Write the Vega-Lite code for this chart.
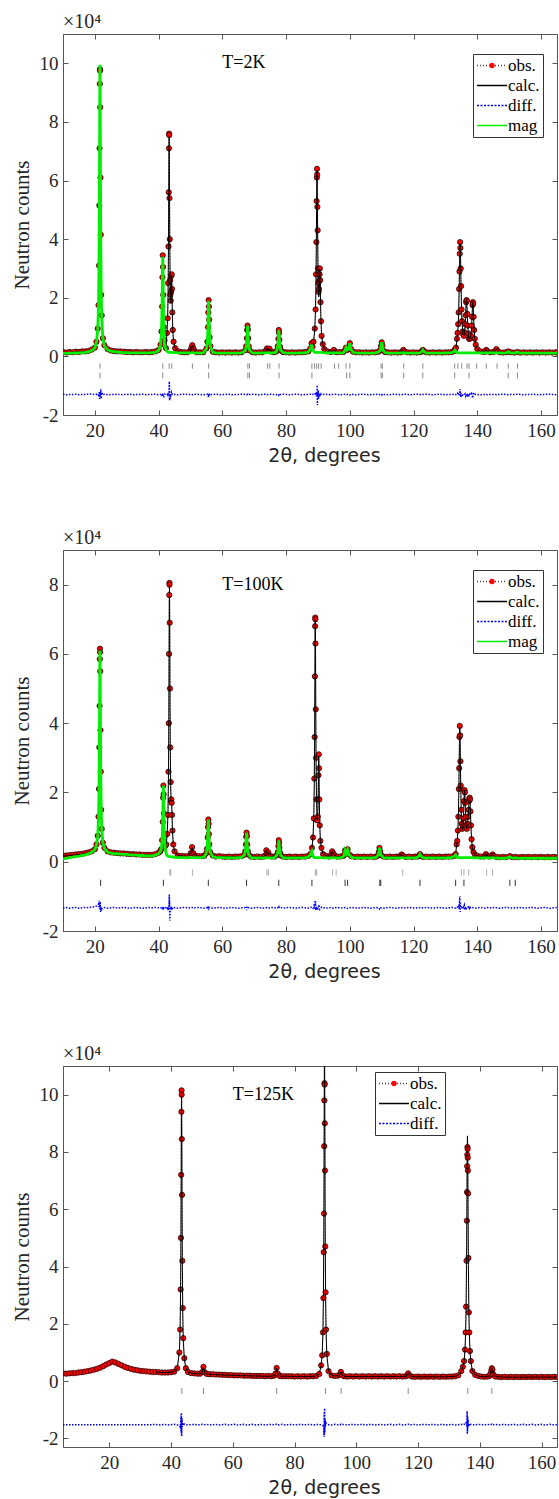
{
"$schema":"https://vega.github.io/schema/vega-lite/v6.json",
"padding":{"left":10,"top":11,"right":0,"bottom":0},
"background":"white",
"bounds":"flush",
"spacing":135,
"resolve":{"scale":{"color":"independent","shape":"independent"}},
"config":{
 "font":"Liberation Serif",
 "view":{"stroke":"#555","strokeWidth":1},
 "axis":{"labelFont":"Liberation Serif","labelFontSize":19,"labelColor":"#262626","domainColor":"#555","tickColor":"#555","tickSize":-5,"grid":false,"titleFontWeight":"normal","titleColor":"#262626"},
 "axisX":{"titleFont":"DejaVu Sans","titleFontSize":19,"labelPadding":11},
 "axisY":{"titleFont":"Liberation Serif","titleFontSize":21,"labelPadding":10,"titleX":-31,"titleBaseline":"bottom"},
 "title":{"font":"Liberation Serif","fontSize":20,"fontWeight":"normal","anchor":"start","frame":"group","offset":2,"color":"#262626"}
},
"datasets":{
"p1":[
{"x":10,"o":0.15,"c":0.13,"d":-1.29,"m":0.1},{"x":11,"o":0.13,"c":0.13,"d":-1.31,"m":0.1},{"x":12,"o":0.15,"c":0.14,"d":-1.3,"m":0.11},{"x":13,"o":0.14,"c":0.14,"d":-1.3,"m":0.11},{"x":14,"o":0.16,"c":0.15,"d":-1.29,"m":0.12},{"x":15,"o":0.15,"c":0.15,"d":-1.31,"m":0.12},{"x":16,"o":0.17,"c":0.16,"d":-1.3,"m":0.13},{"x":17,"o":0.17,"c":0.17,"d":-1.3,"m":0.14},{"x":18,"o":0.19,"c":0.19,"d":-1.29,"m":0.16},{"x":19,"o":0.23,"c":0.22,"d":-1.28,"m":0.2},{"x":20,"o":0.3,"c":0.31,"d":-1.31,"m":0.29},{"x":20.5,"o":0.5,"c":0.49,"d":-1.29,"m":0.48},
{"x":20.9,"o":0.95,"c":0.92,"d":-1.27,"m":0.92},{"x":21.15,"o":1.75,"c":1.79,"d":-1.34,"m":1.79},{"x":21.3,"o":3.1,"c":3.18,"d":-1.38,"m":3.18},{"x":21.4,"o":5.15,"c":5.04,"d":-1.19,"m":5.04},{"x":21.48,"o":7.1,"c":7.32,"d":-1.45,"m":7.32},{"x":21.55,"o":9.3,"c":9.32,"d":-1.32,"m":9.32},{"x":21.6,"o":9.8,"c":9.9,"d":-1.4,"m":9.95},{"x":21.63,"o":9.75,"c":9.68,"d":-1.23,"m":9.72},{"x":21.68,"o":8.5,"c":8.55,"d":-1.35,"m":8.58},{"x":21.76,"o":6.1,"c":6.11,"d":-1.3,"m":6.11},{"x":21.85,"o":4.15,"c":3.97,"d":-1.12,"m":3.97},{"x":21.98,"o":2.1,"c":2.29,"d":-1.45,"m":2.29},{"x":22.15,"o":1.4,"c":1.33,"d":-1.23,"m":1.33},{"x":22.5,"o":0.62,"c":0.64,"d":-1.32,"m":0.63},
{"x":23,"o":0.38,"c":0.37,"d":-1.29,"m":0.35},{"x":24,"o":0.25,"c":0.24,"d":-1.31,"m":0.22},{"x":25,"o":0.2,"c":0.2,"d":-1.3,"m":0.18},{"x":26,"o":0.18,"c":0.18,"d":-1.3,"m":0.16},{"x":27,"o":0.17,"c":0.17,"d":-1.29,"m":0.15},{"x":28,"o":0.17,"c":0.16,"d":-1.31,"m":0.14},{"x":29,"o":0.16,"c":0.15,"d":-1.3,"m":0.13},{"x":30,"o":0.15,"c":0.15,"d":-1.3,"m":0.13},{"x":31,"o":0.15,"c":0.14,"d":-1.29,"m":0.12},{"x":32,"o":0.14,"c":0.14,"d":-1.31,"m":0.12},{"x":33,"o":0.15,"c":0.14,"d":-1.3,"m":0.12},{"x":34,"o":0.14,"c":0.14,"d":-1.3,"m":0.12},{"x":35,"o":0.14,"c":0.14,"d":-1.29,"m":0.12},{"x":36,"o":0.15,"c":0.14,"d":-1.31,"m":0.12},{"x":37,"o":0.14,"c":0.14,"d":-1.3,"m":0.12},{"x":38,"o":0.15,"c":0.15,"d":-1.3,"m":0.13},{"x":39,"o":0.17,"c":0.16,"d":-1.29,"m":0.14},{"x":40,"o":0.22,"c":0.22,"d":-1.31,"m":0.2},
{"x":40.6,"o":0.4,"c":0.39,"d":-1.3,"m":0.38},{"x":40.9,"o":0.85,"c":0.8,"d":-1.27,"m":0.8},{"x":41.1,"o":1.7,"c":1.79,"d":-1.36,"m":1.79},{"x":41.2,"o":2.7,"c":2.78,"d":-1.35,"m":2.78},{"x":41.3,"o":3.45,"c":3.4,"d":-1.28,"m":3.4},{"x":41.38,"o":3.05,"c":2.98,"d":-1.26,"m":2.98},{"x":41.46,"o":2.1,"c":2.15,"d":-1.34,"m":2.15},{"x":41.6,"o":1.0,"c":1.15,"d":-1.4,"m":1.12},{"x":41.85,"o":0.55,"c":0.53,"d":-1.29,"m":0.45},{"x":42.3,"o":0.28,"c":0.27,"d":-1.3,"m":0.22},
{"x":42.6,"o":0.8,"c":0.77,"d":-1.28,"m":0.18},{"x":42.85,"o":1.3,"c":1.36,"d":-1.32,"m":0.16},{"x":43,"o":2.5,"c":2.42,"d":-1.25,"m":0.15},{"x":43.1,"o":3.75,"c":3.84,"d":-1.36,"m":0.15},{"x":43.18,"o":5.6,"c":5.58,"d":-1.28,"m":0.14},{"x":43.25,"o":7.1,"c":7.1,"d":-1.3,"m":0.14},{"x":43.3,"o":7.6,"c":7.5,"d":-1.2,"m":0.14},{"x":43.35,"o":7.55,"c":7.1,"d":-0.85,"m":0.14},{"x":43.42,"o":5.4,"c":5.6,"d":-1.5,"m":0.14},{"x":43.5,"o":4.0,"c":4.06,"d":-1.4,"m":0.14},{"x":43.6,"o":2.6,"c":2.72,"d":-1.45,"m":0.14},{"x":43.7,"o":2.1,"c":2.06,"d":-1.3,"m":0.14},{"x":43.8,"o":1.9,"c":1.84,"d":-1.32,"m":0.14},{"x":43.9,"o":2.2,"c":2.05,"d":-1.25,"m":0.14},{"x":44,"o":2.75,"c":2.6,"d":-1.22,"m":0.14},{"x":44.1,"o":2.8,"c":2.78,"d":-1.27,"m":0.14},{"x":44.2,"o":2.3,"c":2.23,"d":-1.25,"m":0.14},{"x":44.3,"o":1.5,"c":1.51,"d":-1.3,"m":0.14},{"x":44.45,"o":0.9,"c":0.88,"d":-1.31,"m":0.13},{"x":44.7,"o":0.5,"c":0.49,"d":-1.29,"m":0.13},{"x":45.2,"o":0.28,"c":0.28,"d":-1.3,"m":0.13},
{"x":46,"o":0.18,"c":0.18,"d":-1.31,"m":0.12},{"x":47,"o":0.15,"c":0.15,"d":-1.3,"m":0.12},{"x":48,"o":0.14,"c":0.14,"d":-1.29,"m":0.12},{"x":49,"o":0.14,"c":0.14,"d":-1.3,"m":0.12},{"x":50,"o":0.2,"c":0.19,"d":-1.3,"m":0.12},{"x":50.3,"o":0.29,"c":0.28,"d":-1.29,"m":0.12},{"x":50.6,"o":0.38,"c":0.38,"d":-1.31,"m":0.12},{"x":50.9,"o":0.27,"c":0.28,"d":-1.3,"m":0.12},{"x":51.2,"o":0.19,"c":0.19,"d":-1.3,"m":0.12},{"x":52,"o":0.14,"c":0.14,"d":-1.29,"m":0.12},{"x":53,"o":0.14,"c":0.13,"d":-1.3,"m":0.11},{"x":54,"o":0.14,"c":0.14,"d":-1.31,"m":0.12},
{"x":55,"o":0.27,"c":0.26,"d":-1.3,"m":0.26},{"x":55.3,"o":0.5,"c":0.48,"d":-1.29,"m":0.48},{"x":55.5,"o":1.0,"c":1.02,"d":-1.32,"m":1.02},{"x":55.6,"o":1.5,"c":1.55,"d":-1.38,"m":1.55},{"x":55.7,"o":1.92,"c":1.9,"d":-1.28,"m":1.9},{"x":55.78,"o":1.7,"c":1.66,"d":-1.36,"m":1.66},{"x":55.86,"o":1.25,"c":1.21,"d":-1.27,"m":1.21},{"x":56,"o":0.65,"c":0.68,"d":-1.33,"m":0.68},{"x":56.25,"o":0.35,"c":0.34,"d":-1.3,"m":0.34},
{"x":57,"o":0.16,"c":0.16,"d":-1.3,"m":0.14},{"x":58,"o":0.14,"c":0.14,"d":-1.29,"m":0.12},{"x":59,"o":0.13,"c":0.13,"d":-1.31,"m":0.11},{"x":60,"o":0.14,"c":0.13,"d":-1.3,"m":0.11},{"x":61,"o":0.13,"c":0.13,"d":-1.3,"m":0.11},{"x":62,"o":0.14,"c":0.13,"d":-1.29,"m":0.11},{"x":63,"o":0.13,"c":0.13,"d":-1.31,"m":0.11},{"x":64,"o":0.14,"c":0.13,"d":-1.3,"m":0.11},{"x":65,"o":0.13,"c":0.13,"d":-1.3,"m":0.11},{"x":66,"o":0.14,"c":0.14,"d":-1.29,"m":0.12},
{"x":67.2,"o":0.21,"c":0.2,"d":-1.3,"m":0.2},{"x":67.5,"o":0.35,"c":0.34,"d":-1.29,"m":0.34},{"x":67.7,"o":0.62,"c":0.63,"d":-1.31,"m":0.63},{"x":67.8,"o":0.9,"c":0.89,"d":-1.3,"m":0.89},{"x":67.9,"o":1.05,"c":1.05,"d":-1.33,"m":1.05},{"x":68,"o":0.92,"c":0.89,"d":-1.27,"m":0.89},{"x":68.1,"o":0.62,"c":0.63,"d":-1.31,"m":0.63},{"x":68.3,"o":0.34,"c":0.34,"d":-1.3,"m":0.34},{"x":68.6,"o":0.2,"c":0.2,"d":-1.3,"m":0.2},
{"x":69.5,"o":0.14,"c":0.14,"d":-1.29,"m":0.12},{"x":70.5,"o":0.13,"c":0.13,"d":-1.3,"m":0.11},{"x":71.5,"o":0.14,"c":0.13,"d":-1.31,"m":0.11},{"x":72.5,"o":0.14,"c":0.14,"d":-1.3,"m":0.12},{"x":73.6,"o":0.19,"c":0.18,"d":-1.29,"m":0.12},{"x":74,"o":0.27,"c":0.27,"d":-1.31,"m":0.12},{"x":74.4,"o":0.22,"c":0.22,"d":-1.3,"m":0.12},{"x":74.8,"o":0.26,"c":0.26,"d":-1.3,"m":0.12},{"x":75.2,"o":0.17,"c":0.17,"d":-1.29,"m":0.12},{"x":76,"o":0.14,"c":0.14,"d":-1.3,"m":0.12},{"x":76.8,"o":0.16,"c":0.16,"d":-1.31,"m":0.14},
{"x":77.1,"o":0.2,"c":0.2,"d":-1.3,"m":0.2},{"x":77.4,"o":0.35,"c":0.34,"d":-1.29,"m":0.34},{"x":77.6,"o":0.6,"c":0.6,"d":-1.3,"m":0.6},{"x":77.7,"o":0.9,"c":0.9,"d":-1.32,"m":0.9},{"x":77.8,"o":0.8,"c":0.78,"d":-1.28,"m":0.78},{"x":77.9,"o":0.56,"c":0.57,"d":-1.31,"m":0.57},{"x":78.1,"o":0.33,"c":0.33,"d":-1.3,"m":0.33},{"x":78.4,"o":0.2,"c":0.2,"d":-1.3,"m":0.2},
{"x":79,"o":0.15,"c":0.15,"d":-1.29,"m":0.13},{"x":80,"o":0.14,"c":0.13,"d":-1.3,"m":0.11},{"x":81,"o":0.13,"c":0.13,"d":-1.31,"m":0.11},{"x":82,"o":0.14,"c":0.13,"d":-1.3,"m":0.11},{"x":83,"o":0.13,"c":0.13,"d":-1.29,"m":0.11},{"x":84,"o":0.14,"c":0.13,"d":-1.3,"m":0.11},{"x":85,"o":0.14,"c":0.14,"d":-1.31,"m":0.12},{"x":86,"o":0.15,"c":0.14,"d":-1.3,"m":0.12},{"x":87,"o":0.17,"c":0.17,"d":-1.3,"m":0.15},{"x":87.6,"o":0.27,"c":0.26,"d":-1.29,"m":0.25},{"x":88,"o":0.45,"c":0.45,"d":-1.31,"m":0.4},{"x":88.3,"o":0.33,"c":0.32,"d":-1.3,"m":0.25},
{"x":88.6,"o":0.5,"c":0.48,"d":-1.28,"m":0.17},{"x":89,"o":0.95,"c":0.9,"d":-1.25,"m":0.14},{"x":89.25,"o":1.6,"c":1.63,"d":-1.33,"m":0.14},{"x":89.4,"o":2.8,"c":2.72,"d":-1.22,"m":0.14},{"x":89.5,"o":3.9,"c":3.97,"d":-1.37,"m":0.14},{"x":89.58,"o":5.3,"c":5.22,"d":-1.22,"m":0.14},{"x":89.65,"o":6.1,"c":6.15,"d":-1.35,"m":0.14},{"x":89.7,"o":6.4,"c":6.35,"d":-1.25,"m":0.14},{"x":89.75,"o":6.2,"c":6.1,"d":-0.98,"m":0.14},{"x":89.82,"o":5.1,"c":5.25,"d":-1.66,"m":0.14},{"x":89.9,"o":4.3,"c":4.18,"d":-1.22,"m":0.14},{"x":90,"o":3.0,"c":3.03,"d":-1.39,"m":0.14},{"x":90.1,"o":2.5,"c":2.35,"d":-1.15,"m":0.14},{"x":90.2,"o":2.2,"c":2.04,"d":-1.45,"m":0.14},{"x":90.3,"o":2.3,"c":2.03,"d":-1.25,"m":0.14},{"x":90.4,"o":2.6,"c":2.29,"d":-1.32,"m":0.14},{"x":90.5,"o":2.8,"c":2.75,"d":-1.38,"m":0.14},{"x":90.6,"o":3.0,"c":2.98,"d":-1.28,"m":0.14},{"x":90.7,"o":2.6,"c":2.56,"d":-1.31,"m":0.14},{"x":90.8,"o":1.85,"c":1.89,"d":-1.35,"m":0.14},{"x":90.95,"o":1.2,"c":1.18,"d":-1.28,"m":0.14},{"x":91.15,"o":0.7,"c":0.72,"d":-1.31,"m":0.14},{"x":91.5,"o":0.42,"c":0.42,"d":-1.3,"m":0.13},
{"x":92,"o":0.25,"c":0.25,"d":-1.29,"m":0.12},{"x":93,"o":0.17,"c":0.17,"d":-1.3,"m":0.12},{"x":94,"o":0.15,"c":0.15,"d":-1.31,"m":0.12},{"x":94.6,"o":0.17,"c":0.16,"d":-1.3,"m":0.12},{"x":95,"o":0.22,"c":0.22,"d":-1.3,"m":0.12},{"x":95.4,"o":0.16,"c":0.16,"d":-1.29,"m":0.12},{"x":96,"o":0.14,"c":0.14,"d":-1.3,"m":0.12},{"x":97,"o":0.15,"c":0.14,"d":-1.31,"m":0.12},{"x":98,"o":0.15,"c":0.15,"d":-1.3,"m":0.13},{"x":98.4,"o":0.2,"c":0.19,"d":-1.29,"m":0.19},{"x":98.8,"o":0.3,"c":0.3,"d":-1.31,"m":0.3},{"x":99.2,"o":0.22,"c":0.22,"d":-1.3,"m":0.22},{"x":99.6,"o":0.26,"c":0.25,"d":-1.3,"m":0.25},{"x":100,"o":0.45,"c":0.45,"d":-1.32,"m":0.45},{"x":100.3,"o":0.26,"c":0.25,"d":-1.29,"m":0.25},
{"x":101,"o":0.16,"c":0.16,"d":-1.3,"m":0.14},{"x":102,"o":0.14,"c":0.14,"d":-1.31,"m":0.12},{"x":103,"o":0.14,"c":0.13,"d":-1.3,"m":0.11},{"x":104,"o":0.13,"c":0.13,"d":-1.29,"m":0.11},{"x":105,"o":0.14,"c":0.13,"d":-1.3,"m":0.11},{"x":106,"o":0.13,"c":0.13,"d":-1.31,"m":0.11},{"x":107,"o":0.14,"c":0.13,"d":-1.3,"m":0.11},{"x":108,"o":0.14,"c":0.14,"d":-1.3,"m":0.12},{"x":109,"o":0.16,"c":0.16,"d":-1.29,"m":0.15},{"x":109.5,"o":0.21,"c":0.2,"d":-1.31,"m":0.2},{"x":109.8,"o":0.35,"c":0.35,"d":-1.3,"m":0.35},{"x":110,"o":0.48,"c":0.48,"d":-1.32,"m":0.48},{"x":110.2,"o":0.37,"c":0.36,"d":-1.28,"m":0.36},{"x":110.5,"o":0.2,"c":0.2,"d":-1.3,"m":0.2},
{"x":111,"o":0.15,"c":0.15,"d":-1.3,"m":0.13},{"x":112,"o":0.14,"c":0.13,"d":-1.31,"m":0.11},{"x":113,"o":0.13,"c":0.13,"d":-1.3,"m":0.11},{"x":114,"o":0.14,"c":0.13,"d":-1.29,"m":0.11},{"x":115,"o":0.13,"c":0.13,"d":-1.3,"m":0.11},{"x":116,"o":0.14,"c":0.14,"d":-1.31,"m":0.12},{"x":116.5,"o":0.17,"c":0.17,"d":-1.3,"m":0.12},{"x":116.8,"o":0.22,"c":0.22,"d":-1.3,"m":0.12},{"x":117.1,"o":0.17,"c":0.17,"d":-1.29,"m":0.12},{"x":118,"o":0.14,"c":0.13,"d":-1.3,"m":0.11},{"x":119,"o":0.13,"c":0.13,"d":-1.31,"m":0.11},{"x":120,"o":0.14,"c":0.13,"d":-1.3,"m":0.11},{"x":121,"o":0.13,"c":0.13,"d":-1.29,"m":0.11},{"x":122,"o":0.14,"c":0.14,"d":-1.3,"m":0.12},{"x":122.6,"o":0.17,"c":0.17,"d":-1.31,"m":0.17},{"x":122.9,"o":0.22,"c":0.22,"d":-1.3,"m":0.22},{"x":123.2,"o":0.17,"c":0.17,"d":-1.3,"m":0.17},
{"x":124,"o":0.14,"c":0.13,"d":-1.29,"m":0.11},{"x":125,"o":0.13,"c":0.13,"d":-1.3,"m":0.11},{"x":126,"o":0.14,"c":0.13,"d":-1.31,"m":0.11},{"x":127,"o":0.13,"c":0.13,"d":-1.3,"m":0.11},{"x":128,"o":0.14,"c":0.13,"d":-1.29,"m":0.11},{"x":129,"o":0.13,"c":0.13,"d":-1.3,"m":0.11},{"x":130,"o":0.14,"c":0.14,"d":-1.31,"m":0.12},{"x":131,"o":0.14,"c":0.14,"d":-1.3,"m":0.12},{"x":132,"o":0.15,"c":0.15,"d":-1.3,"m":0.13},{"x":132.7,"o":0.18,"c":0.18,"d":-1.29,"m":0.17},{"x":133,"o":0.24,"c":0.23,"d":-1.31,"m":0.21},{"x":133.3,"o":0.3,"c":0.3,"d":-1.3,"m":0.16},
{"x":133.6,"o":0.6,"c":0.57,"d":-1.28,"m":0.13},{"x":133.8,"o":0.8,"c":0.74,"d":-1.25,"m":0.12},{"x":134,"o":1.1,"c":1.08,"d":-1.3,"m":0.12},{"x":134.15,"o":1.5,"c":1.53,"d":-1.33,"m":0.12},{"x":134.3,"o":2.3,"c":2.27,"d":-1.27,"m":0.12},{"x":134.4,"o":2.9,"c":2.93,"d":-1.33,"m":0.12},{"x":134.5,"o":3.5,"c":3.56,"d":-1.2,"m":0.12},{"x":134.6,"o":3.9,"c":3.85,"d":-1.12,"m":0.12},{"x":134.7,"o":3.7,"c":3.61,"d":-1.3,"m":0.12},{"x":134.8,"o":3.0,"c":2.98,"d":-1.4,"m":0.12},{"x":134.9,"o":2.4,"c":2.33,"d":-1.25,"m":0.12},{"x":135.05,"o":1.6,"c":1.62,"d":-1.35,"m":0.12},{"x":135.2,"o":1.2,"c":1.18,"d":-1.3,"m":0.12},{"x":135.4,"o":0.85,"c":0.88,"d":-1.32,"m":0.12},{"x":135.6,"o":0.75,"c":0.73,"d":-1.28,"m":0.12},{"x":135.8,"o":0.7,"c":0.71,"d":-1.3,"m":0.12},{"x":136,"o":0.82,"c":0.8,"d":-1.29,"m":0.12},{"x":136.2,"o":1.1,"c":1.07,"d":-1.27,"m":0.12},{"x":136.35,"o":1.4,"c":1.45,"d":-1.35,"m":0.12},{"x":136.5,"o":1.85,"c":1.89,"d":-1.3,"m":0.12},{"x":136.6,"o":1.92,"c":1.95,"d":-1.33,"m":0.12},{"x":136.7,"o":1.9,"c":1.87,"d":-1.26,"m":0.12},{"x":136.85,"o":1.45,"c":1.4,"d":-1.28,"m":0.12},{"x":137,"o":1.05,"c":1.07,"d":-1.38,"m":0.12},{"x":137.2,"o":0.78,"c":0.76,"d":-1.29,"m":0.12},{"x":137.4,"o":0.6,"c":0.62,"d":-1.32,"m":0.12},{"x":137.6,"o":0.6,"c":0.58,"d":-1.25,"m":0.12},{"x":137.8,"o":0.62,"c":0.6,"d":-1.3,"m":0.12},{"x":138,"o":0.7,"c":0.71,"d":-1.31,"m":0.12},{"x":138.2,"o":1.05,"c":1.0,"d":-1.27,"m":0.12},{"x":138.35,"o":1.35,"c":1.37,"d":-1.33,"m":0.12},{"x":138.5,"o":1.75,"c":1.8,"d":-1.4,"m":0.12},{"x":138.6,"o":1.85,"c":1.85,"d":-1.42,"m":0.12},{"x":138.7,"o":1.8,"c":1.76,"d":-1.28,"m":0.12},{"x":138.85,"o":1.35,"c":1.31,"d":-1.27,"m":0.12},{"x":139,"o":0.9,"c":0.92,"d":-1.32,"m":0.12},{"x":139.2,"o":0.6,"c":0.6,"d":-1.3,"m":0.12},{"x":139.5,"o":0.4,"c":0.39,"d":-1.29,"m":0.12},
{"x":140,"o":0.25,"c":0.25,"d":-1.3,"m":0.12},{"x":141,"o":0.17,"c":0.17,"d":-1.31,"m":0.12},{"x":142,"o":0.15,"c":0.15,"d":-1.3,"m":0.12},{"x":142.5,"o":0.17,"c":0.17,"d":-1.3,"m":0.12},{"x":142.8,"o":0.22,"c":0.22,"d":-1.29,"m":0.12},{"x":143.1,"o":0.17,"c":0.17,"d":-1.31,"m":0.12},{"x":144,"o":0.14,"c":0.14,"d":-1.3,"m":0.12},{"x":145,"o":0.15,"c":0.15,"d":-1.3,"m":0.12},{"x":145.6,"o":0.18,"c":0.18,"d":-1.29,"m":0.12},{"x":146,"o":0.25,"c":0.25,"d":-1.31,"m":0.12},{"x":146.4,"o":0.18,"c":0.18,"d":-1.3,"m":0.12},{"x":147,"o":0.14,"c":0.14,"d":-1.3,"m":0.12},{"x":148,"o":0.13,"c":0.13,"d":-1.29,"m":0.11},{"x":149,"o":0.14,"c":0.14,"d":-1.3,"m":0.12},{"x":149.8,"o":0.17,"c":0.17,"d":-1.31,"m":0.16},{"x":150.5,"o":0.14,"c":0.14,"d":-1.3,"m":0.12},{"x":151.5,"o":0.13,"c":0.13,"d":-1.3,"m":0.11},{"x":152.6,"o":0.15,"c":0.15,"d":-1.29,"m":0.14},{"x":153.5,"o":0.13,"c":0.13,"d":-1.3,"m":0.11},{"x":154.5,"o":0.14,"c":0.13,"d":-1.31,"m":0.11},{"x":155.5,"o":0.13,"c":0.13,"d":-1.3,"m":0.11},{"x":156.5,"o":0.14,"c":0.13,"d":-1.3,"m":0.11},{"x":157.5,"o":0.13,"c":0.13,"d":-1.29,"m":0.11},{"x":158.5,"o":0.14,"c":0.13,"d":-1.3,"m":0.11},{"x":159.5,"o":0.13,"c":0.13,"d":-1.31,"m":0.11},{"x":160.5,"o":0.14,"c":0.13,"d":-1.3,"m":0.11},{"x":161.5,"o":0.13,"c":0.13,"d":-1.3,"m":0.11},{"x":162.5,"o":0.14,"c":0.13,"d":-1.29,"m":0.11},{"x":163.5,"o":0.13,"c":0.13,"d":-1.3,"m":0.11},{"x":164.5,"o":0.14,"c":0.13,"d":-1.31,"m":0.11},{"x":165,"o":0.13,"c":0.13,"d":-1.3,"m":0.11}
],
"p2":[
{"x":10,"o":0.17,"c":0.16,"d":-1.33,"m":0.08},{"x":11,"o":0.18,"c":0.17,"d":-1.32,"m":0.1},{"x":12,"o":0.19,"c":0.18,"d":-1.34,"m":0.12},{"x":13,"o":0.2,"c":0.19,"d":-1.33,"m":0.13},{"x":14,"o":0.21,"c":0.2,"d":-1.32,"m":0.15},{"x":15,"o":0.22,"c":0.21,"d":-1.34,"m":0.16},{"x":16,"o":0.23,"c":0.22,"d":-1.33,"m":0.18},{"x":17,"o":0.25,"c":0.24,"d":-1.32,"m":0.2},{"x":18,"o":0.27,"c":0.26,"d":-1.33,"m":0.23},{"x":19,"o":0.3,"c":0.29,"d":-1.31,"m":0.27},{"x":20,"o":0.36,"c":0.36,"d":-1.3,"m":0.35},{"x":20.5,"o":0.5,"c":0.48,"d":-1.28,"m":0.48},
{"x":20.9,"o":0.75,"c":0.74,"d":-1.26,"m":0.74},{"x":21.15,"o":1.3,"c":1.26,"d":-1.22,"m":1.26},{"x":21.3,"o":2.1,"c":2.09,"d":-1.3,"m":2.09},{"x":21.4,"o":3.3,"c":3.2,"d":-1.12,"m":3.2},{"x":21.48,"o":4.5,"c":4.56,"d":-1.38,"m":4.56},{"x":21.55,"o":5.85,"c":5.76,"d":-1.2,"m":5.76},{"x":21.6,"o":6.15,"c":6.1,"d":-1.28,"m":6.1},{"x":21.63,"o":6.05,"c":5.97,"d":-1.25,"m":5.97},{"x":21.68,"o":5.5,"c":5.3,"d":-1.15,"m":5.3},{"x":21.76,"o":3.8,"c":3.84,"d":-1.45,"m":3.84},{"x":21.85,"o":2.6,"c":2.56,"d":-1.3,"m":2.56},{"x":21.98,"o":1.5,"c":1.56,"d":-1.42,"m":1.56},{"x":22.15,"o":0.95,"c":0.98,"d":-1.36,"m":0.98},{"x":22.5,"o":0.55,"c":0.57,"d":-1.35,"m":0.56},
{"x":23,"o":0.4,"c":0.4,"d":-1.32,"m":0.38},{"x":24,"o":0.3,"c":0.3,"d":-1.34,"m":0.28},{"x":25,"o":0.27,"c":0.27,"d":-1.33,"m":0.25},{"x":26,"o":0.26,"c":0.25,"d":-1.32,"m":0.23},{"x":27,"o":0.25,"c":0.25,"d":-1.34,"m":0.23},{"x":28,"o":0.24,"c":0.24,"d":-1.33,"m":0.22},{"x":29,"o":0.24,"c":0.23,"d":-1.32,"m":0.21},{"x":30,"o":0.23,"c":0.23,"d":-1.33,"m":0.21},{"x":31,"o":0.22,"c":0.22,"d":-1.34,"m":0.2},{"x":32,"o":0.22,"c":0.21,"d":-1.33,"m":0.19},{"x":33,"o":0.21,"c":0.21,"d":-1.32,"m":0.19},{"x":34,"o":0.21,"c":0.2,"d":-1.33,"m":0.18},{"x":35,"o":0.2,"c":0.2,"d":-1.34,"m":0.18},{"x":36,"o":0.2,"c":0.2,"d":-1.33,"m":0.17},{"x":37,"o":0.2,"c":0.19,"d":-1.32,"m":0.17},{"x":38,"o":0.2,"c":0.2,"d":-1.33,"m":0.17},{"x":39,"o":0.22,"c":0.21,"d":-1.32,"m":0.19},{"x":40,"o":0.26,"c":0.26,"d":-1.33,"m":0.24},{"x":40.5,"o":0.3,"c":0.3,"d":-1.34,"m":0.29},
{"x":40.8,"o":0.36,"c":0.35,"d":-1.33,"m":0.35},{"x":41.1,"o":0.62,"c":0.6,"d":-1.31,"m":0.6},{"x":41.3,"o":1.15,"c":1.2,"d":-1.38,"m":1.2},{"x":41.4,"o":1.85,"c":1.8,"d":-1.3,"m":1.8},{"x":41.5,"o":2.2,"c":2.2,"d":-1.36,"m":2.2},{"x":41.58,"o":1.95,"c":1.92,"d":-1.3,"m":1.92},{"x":41.66,"o":1.4,"c":1.42,"d":-1.35,"m":1.42},{"x":41.8,"o":0.8,"c":0.82,"d":-1.34,"m":0.8},{"x":42.05,"o":0.45,"c":0.43,"d":-1.32,"m":0.38},{"x":42.4,"o":0.5,"c":0.5,"d":-1.33,"m":0.22},
{"x":42.7,"o":0.8,"c":0.79,"d":-1.3,"m":0.18},{"x":42.95,"o":1.35,"c":1.45,"d":-1.4,"m":0.16},{"x":43.1,"o":2.6,"c":2.57,"d":-1.3,"m":0.15},{"x":43.2,"o":4.0,"c":4.08,"d":-1.38,"m":0.15},{"x":43.28,"o":6.0,"c":5.92,"d":-1.22,"m":0.15},{"x":43.35,"o":7.7,"c":7.54,"d":-0.95,"m":0.15},{"x":43.4,"o":8.05,"c":8.0,"d":-1.25,"m":0.15},{"x":43.43,"o":8.0,"c":7.83,"d":-1.1,"m":0.15},{"x":43.48,"o":6.9,"c":7.0,"d":-1.7,"m":0.15},{"x":43.56,"o":5.0,"c":5.1,"d":-1.5,"m":0.15},{"x":43.65,"o":3.3,"c":3.4,"d":-1.45,"m":0.15},{"x":43.78,"o":2.3,"c":2.28,"d":-1.3,"m":0.15},{"x":43.9,"o":1.75,"c":1.73,"d":-1.33,"m":0.14},{"x":44,"o":1.8,"c":1.74,"d":-1.28,"m":0.14},{"x":44.1,"o":1.7,"c":1.74,"d":-1.36,"m":0.14},{"x":44.2,"o":1.35,"c":1.41,"d":-1.38,"m":0.14},{"x":44.35,"o":0.9,"c":0.89,"d":-1.33,"m":0.14},{"x":44.6,"o":0.5,"c":0.5,"d":-1.32,"m":0.13},{"x":45,"o":0.3,"c":0.3,"d":-1.33,"m":0.13},
{"x":46,"o":0.18,"c":0.18,"d":-1.34,"m":0.12},{"x":47,"o":0.17,"c":0.17,"d":-1.33,"m":0.12},{"x":48,"o":0.16,"c":0.16,"d":-1.32,"m":0.12},{"x":49,"o":0.16,"c":0.16,"d":-1.33,"m":0.12},{"x":50.1,"o":0.25,"c":0.25,"d":-1.33,"m":0.12},{"x":50.5,"o":0.42,"c":0.41,"d":-1.32,"m":0.12},{"x":50.9,"o":0.25,"c":0.25,"d":-1.34,"m":0.12},{"x":51.5,"o":0.17,"c":0.17,"d":-1.33,"m":0.12},{"x":52.5,"o":0.16,"c":0.16,"d":-1.32,"m":0.12},{"x":53.5,"o":0.16,"c":0.16,"d":-1.33,"m":0.12},{"x":54.3,"o":0.17,"c":0.17,"d":-1.34,"m":0.14},
{"x":54.9,"o":0.24,"c":0.24,"d":-1.33,"m":0.24},{"x":55.2,"o":0.37,"c":0.37,"d":-1.32,"m":0.37},{"x":55.4,"o":0.7,"c":0.69,"d":-1.32,"m":0.69},{"x":55.5,"o":1.0,"c":1.01,"d":-1.36,"m":1.01},{"x":55.6,"o":1.22,"c":1.22,"d":-1.28,"m":1.22},{"x":55.68,"o":1.1,"c":1.07,"d":-1.4,"m":1.07},{"x":55.76,"o":0.8,"c":0.81,"d":-1.33,"m":0.81},{"x":55.9,"o":0.5,"c":0.49,"d":-1.32,"m":0.49},{"x":56.15,"o":0.28,"c":0.28,"d":-1.33,"m":0.28},
{"x":57,"o":0.18,"c":0.18,"d":-1.34,"m":0.15},{"x":58,"o":0.15,"c":0.15,"d":-1.33,"m":0.12},{"x":59,"o":0.16,"c":0.15,"d":-1.32,"m":0.12},{"x":60,"o":0.15,"c":0.15,"d":-1.33,"m":0.12},{"x":61,"o":0.14,"c":0.14,"d":-1.34,"m":0.11},{"x":62,"o":0.15,"c":0.15,"d":-1.33,"m":0.12},{"x":63,"o":0.14,"c":0.14,"d":-1.32,"m":0.11},{"x":64,"o":0.15,"c":0.14,"d":-1.33,"m":0.11},{"x":65,"o":0.15,"c":0.15,"d":-1.34,"m":0.12},{"x":66,"o":0.16,"c":0.15,"d":-1.33,"m":0.12},
{"x":66.9,"o":0.2,"c":0.2,"d":-1.32,"m":0.2},{"x":67.2,"o":0.3,"c":0.3,"d":-1.33,"m":0.3},{"x":67.4,"o":0.5,"c":0.5,"d":-1.35,"m":0.5},{"x":67.5,"o":0.72,"c":0.72,"d":-1.31,"m":0.72},{"x":67.6,"o":0.84,"c":0.84,"d":-1.4,"m":0.84},{"x":67.7,"o":0.74,"c":0.72,"d":-1.3,"m":0.72},{"x":67.8,"o":0.5,"c":0.5,"d":-1.33,"m":0.5},{"x":68,"o":0.3,"c":0.3,"d":-1.32,"m":0.3},{"x":68.3,"o":0.2,"c":0.2,"d":-1.33,"m":0.2},
{"x":69,"o":0.15,"c":0.15,"d":-1.34,"m":0.12},{"x":70,"o":0.14,"c":0.14,"d":-1.33,"m":0.11},{"x":71,"o":0.15,"c":0.14,"d":-1.32,"m":0.11},{"x":72,"o":0.14,"c":0.14,"d":-1.33,"m":0.11},{"x":73,"o":0.15,"c":0.15,"d":-1.34,"m":0.11},{"x":73.4,"o":0.18,"c":0.18,"d":-1.33,"m":0.11},{"x":73.8,"o":0.33,"c":0.33,"d":-1.32,"m":0.11},{"x":74.1,"o":0.24,"c":0.24,"d":-1.33,"m":0.11},{"x":74.4,"o":0.27,"c":0.27,"d":-1.34,"m":0.11},{"x":74.8,"o":0.17,"c":0.17,"d":-1.33,"m":0.11},{"x":75.5,"o":0.15,"c":0.15,"d":-1.32,"m":0.11},{"x":76.4,"o":0.15,"c":0.15,"d":-1.33,"m":0.12},
{"x":77.1,"o":0.19,"c":0.19,"d":-1.34,"m":0.19},{"x":77.4,"o":0.28,"c":0.28,"d":-1.33,"m":0.28},{"x":77.6,"o":0.45,"c":0.45,"d":-1.32,"m":0.45},{"x":77.7,"o":0.62,"c":0.62,"d":-1.35,"m":0.62},{"x":77.8,"o":0.54,"c":0.53,"d":-1.31,"m":0.53},{"x":77.9,"o":0.4,"c":0.4,"d":-1.33,"m":0.4},{"x":78.1,"o":0.26,"c":0.26,"d":-1.33,"m":0.26},{"x":78.4,"o":0.18,"c":0.18,"d":-1.32,"m":0.18},
{"x":79,"o":0.15,"c":0.15,"d":-1.34,"m":0.12},{"x":80,"o":0.14,"c":0.14,"d":-1.33,"m":0.11},{"x":81,"o":0.15,"c":0.14,"d":-1.32,"m":0.11},{"x":82,"o":0.14,"c":0.14,"d":-1.33,"m":0.11},{"x":83,"o":0.15,"c":0.14,"d":-1.34,"m":0.11},{"x":84,"o":0.14,"c":0.14,"d":-1.33,"m":0.11},{"x":85,"o":0.15,"c":0.14,"d":-1.32,"m":0.11},{"x":86,"o":0.15,"c":0.15,"d":-1.33,"m":0.12},{"x":87,"o":0.17,"c":0.16,"d":-1.34,"m":0.14},{"x":87.6,"o":0.22,"c":0.21,"d":-1.33,"m":0.2},{"x":88.1,"o":0.4,"c":0.38,"d":-1.3,"m":0.3},
{"x":88.45,"o":0.7,"c":0.71,"d":-1.34,"m":0.16},{"x":88.7,"o":1.25,"c":1.31,"d":-1.38,"m":0.13},{"x":88.85,"o":2.4,"c":2.3,"d":-1.22,"m":0.12},{"x":88.95,"o":3.6,"c":3.63,"d":-1.35,"m":0.12},{"x":89.03,"o":5.35,"c":5.23,"d":-1.2,"m":0.12},{"x":89.1,"o":6.8,"c":6.65,"d":-1.12,"m":0.12},{"x":89.15,"o":7.05,"c":7.0,"d":-1.28,"m":0.12},{"x":89.18,"o":7.0,"c":6.9,"d":-1.22,"m":0.12},{"x":89.23,"o":6.3,"c":6.1,"d":-1.15,"m":0.12},{"x":89.31,"o":4.4,"c":4.44,"d":-1.4,"m":0.12},{"x":89.4,"o":3.0,"c":2.96,"d":-1.3,"m":0.12},{"x":89.53,"o":1.8,"c":1.84,"d":-1.37,"m":0.12},{"x":89.7,"o":1.2,"c":1.25,"d":-1.36,"m":0.12},{"x":89.85,"o":1.2,"c":1.18,"d":-1.32,"m":0.12},{"x":89.95,"o":1.3,"c":1.35,"d":-1.38,"m":0.12},{"x":90.05,"o":1.8,"c":1.77,"d":-1.3,"m":0.12},{"x":90.15,"o":2.5,"c":2.49,"d":-1.33,"m":0.12},{"x":90.25,"o":3.1,"c":3.05,"d":-1.28,"m":0.12},{"x":90.33,"o":2.7,"c":2.59,"d":-1.24,"m":0.12},{"x":90.42,"o":1.8,"c":1.83,"d":-1.36,"m":0.12},{"x":90.55,"o":1.05,"c":1.1,"d":-1.38,"m":0.12},{"x":90.75,"o":0.6,"c":0.63,"d":-1.35,"m":0.12},{"x":91.1,"o":0.4,"c":0.38,"d":-1.31,"m":0.12},
{"x":91.6,"o":0.22,"c":0.22,"d":-1.33,"m":0.11},{"x":92.5,"o":0.17,"c":0.17,"d":-1.34,"m":0.11},{"x":93.5,"o":0.15,"c":0.15,"d":-1.33,"m":0.11},{"x":94.1,"o":0.2,"c":0.2,"d":-1.32,"m":0.11},{"x":94.45,"o":0.3,"c":0.3,"d":-1.33,"m":0.11},{"x":94.8,"o":0.24,"c":0.24,"d":-1.34,"m":0.11},{"x":95.2,"o":0.18,"c":0.18,"d":-1.33,"m":0.11},{"x":96,"o":0.15,"c":0.15,"d":-1.32,"m":0.11},{"x":97,"o":0.15,"c":0.15,"d":-1.33,"m":0.11},{"x":98,"o":0.17,"c":0.17,"d":-1.34,"m":0.15},{"x":98.2,"o":0.2,"c":0.2,"d":-1.33,"m":0.19},{"x":98.5,"o":0.33,"c":0.33,"d":-1.32,"m":0.32},{"x":98.85,"o":0.25,"c":0.25,"d":-1.33,"m":0.24},{"x":99.3,"o":0.36,"c":0.36,"d":-1.35,"m":0.35},{"x":99.7,"o":0.22,"c":0.22,"d":-1.33,"m":0.21},
{"x":100.5,"o":0.16,"c":0.16,"d":-1.32,"m":0.13},{"x":101.5,"o":0.14,"c":0.14,"d":-1.33,"m":0.11},{"x":102.5,"o":0.15,"c":0.14,"d":-1.34,"m":0.11},{"x":103.5,"o":0.14,"c":0.14,"d":-1.33,"m":0.11},{"x":104.5,"o":0.15,"c":0.14,"d":-1.32,"m":0.11},{"x":105.5,"o":0.14,"c":0.14,"d":-1.33,"m":0.11},{"x":106.5,"o":0.15,"c":0.14,"d":-1.34,"m":0.11},{"x":107.5,"o":0.14,"c":0.14,"d":-1.33,"m":0.11},{"x":108.3,"o":0.15,"c":0.15,"d":-1.32,"m":0.13},{"x":108.8,"o":0.18,"c":0.18,"d":-1.33,"m":0.18},{"x":109.1,"o":0.28,"c":0.28,"d":-1.33,"m":0.28},{"x":109.3,"o":0.4,"c":0.4,"d":-1.36,"m":0.4},{"x":109.5,"o":0.3,"c":0.3,"d":-1.31,"m":0.3},{"x":109.8,"o":0.19,"c":0.19,"d":-1.33,"m":0.19},
{"x":110.5,"o":0.15,"c":0.15,"d":-1.34,"m":0.12},{"x":111.5,"o":0.14,"c":0.14,"d":-1.33,"m":0.11},{"x":112.5,"o":0.15,"c":0.14,"d":-1.32,"m":0.11},{"x":113.5,"o":0.14,"c":0.14,"d":-1.33,"m":0.11},{"x":114.5,"o":0.15,"c":0.14,"d":-1.34,"m":0.11},{"x":115.4,"o":0.15,"c":0.15,"d":-1.33,"m":0.11},{"x":116,"o":0.17,"c":0.17,"d":-1.32,"m":0.11},{"x":116.3,"o":0.21,"c":0.21,"d":-1.33,"m":0.11},{"x":116.6,"o":0.17,"c":0.17,"d":-1.34,"m":0.11},{"x":117.5,"o":0.14,"c":0.14,"d":-1.33,"m":0.11},{"x":118.5,"o":0.15,"c":0.14,"d":-1.32,"m":0.11},{"x":119.5,"o":0.14,"c":0.14,"d":-1.33,"m":0.11},{"x":120.5,"o":0.15,"c":0.14,"d":-1.34,"m":0.11},{"x":121.3,"o":0.15,"c":0.15,"d":-1.33,"m":0.13},{"x":121.7,"o":0.17,"c":0.17,"d":-1.32,"m":0.17},{"x":122,"o":0.22,"c":0.22,"d":-1.33,"m":0.22},{"x":122.3,"o":0.17,"c":0.17,"d":-1.34,"m":0.17},
{"x":123,"o":0.14,"c":0.14,"d":-1.33,"m":0.11},{"x":124,"o":0.15,"c":0.14,"d":-1.32,"m":0.11},{"x":125,"o":0.14,"c":0.14,"d":-1.33,"m":0.11},{"x":126,"o":0.15,"c":0.14,"d":-1.34,"m":0.11},{"x":127,"o":0.14,"c":0.14,"d":-1.33,"m":0.11},{"x":128,"o":0.15,"c":0.14,"d":-1.32,"m":0.11},{"x":129,"o":0.14,"c":0.14,"d":-1.33,"m":0.11},{"x":130,"o":0.15,"c":0.14,"d":-1.34,"m":0.11},{"x":131,"o":0.15,"c":0.15,"d":-1.33,"m":0.12},{"x":132,"o":0.15,"c":0.15,"d":-1.32,"m":0.12},{"x":132.8,"o":0.17,"c":0.17,"d":-1.33,"m":0.16},{"x":133.2,"o":0.22,"c":0.22,"d":-1.34,"m":0.2},
{"x":133.5,"o":0.5,"c":0.48,"d":-1.3,"m":0.15},{"x":133.7,"o":0.6,"c":0.58,"d":-1.31,"m":0.12},{"x":133.9,"o":0.9,"c":0.88,"d":-1.31,"m":0.12},{"x":134.05,"o":1.3,"c":1.29,"d":-1.33,"m":0.12},{"x":134.2,"o":2.1,"c":2.04,"d":-1.27,"m":0.12},{"x":134.3,"o":2.7,"c":2.75,"d":-1.38,"m":0.12},{"x":134.4,"o":3.6,"c":3.54,"d":-1.1,"m":0.12},{"x":134.5,"o":3.92,"c":3.88,"d":-1.0,"m":0.12},{"x":134.6,"o":3.65,"c":3.57,"d":-1.45,"m":0.12},{"x":134.7,"o":2.9,"c":2.81,"d":-1.2,"m":0.12},{"x":134.8,"o":2.2,"c":2.13,"d":-1.28,"m":0.12},{"x":134.95,"o":1.5,"c":1.47,"d":-1.3,"m":0.12},{"x":135.1,"o":1.1,"c":1.1,"d":-1.35,"m":0.12},{"x":135.3,"o":0.95,"c":0.92,"d":-1.3,"m":0.12},{"x":135.5,"o":1.05,"c":1.0,"d":-1.28,"m":0.12},{"x":135.65,"o":1.25,"c":1.23,"d":-1.31,"m":0.12},{"x":135.8,"o":1.75,"c":1.69,"d":-1.27,"m":0.12},{"x":135.9,"o":2.05,"c":1.95,"d":-1.25,"m":0.12},{"x":136,"o":2.07,"c":2.07,"d":-1.36,"m":0.12},{"x":136.1,"o":2.0,"c":1.95,"d":-1.4,"m":0.12},{"x":136.2,"o":1.7,"c":1.65,"d":-1.3,"m":0.12},{"x":136.35,"o":1.3,"c":1.25,"d":-1.38,"m":0.12},{"x":136.5,"o":1.0,"c":1.05,"d":-1.36,"m":0.12},{"x":136.7,"o":0.95,"c":0.95,"d":-1.32,"m":0.12},{"x":136.9,"o":1.1,"c":1.05,"d":-1.3,"m":0.12},{"x":137.1,"o":1.3,"c":1.25,"d":-1.3,"m":0.12},{"x":137.25,"o":1.5,"c":1.5,"d":-1.35,"m":0.12},{"x":137.4,"o":1.75,"c":1.72,"d":-1.32,"m":0.12},{"x":137.5,"o":1.82,"c":1.83,"d":-1.34,"m":0.12},{"x":137.6,"o":1.85,"c":1.85,"d":-1.3,"m":0.12},{"x":137.7,"o":1.8,"c":1.75,"d":-1.31,"m":0.12},{"x":137.85,"o":1.45,"c":1.4,"d":-1.33,"m":0.12},{"x":138,"o":1.05,"c":1.0,"d":-1.32,"m":0.12},{"x":138.2,"o":0.65,"c":0.65,"d":-1.33,"m":0.12},{"x":138.45,"o":0.42,"c":0.4,"d":-1.32,"m":0.12},{"x":138.8,"o":0.28,"c":0.27,"d":-1.33,"m":0.11},
{"x":139.3,"o":0.2,"c":0.2,"d":-1.34,"m":0.11},{"x":140,"o":0.17,"c":0.17,"d":-1.33,"m":0.11},{"x":141,"o":0.15,"c":0.15,"d":-1.32,"m":0.11},{"x":142,"o":0.15,"c":0.15,"d":-1.33,"m":0.11},{"x":142.4,"o":0.17,"c":0.17,"d":-1.34,"m":0.11},{"x":142.7,"o":0.22,"c":0.22,"d":-1.33,"m":0.11},{"x":143,"o":0.17,"c":0.17,"d":-1.32,"m":0.11},{"x":143.8,"o":0.15,"c":0.15,"d":-1.33,"m":0.11},{"x":144.5,"o":0.17,"c":0.17,"d":-1.34,"m":0.11},{"x":144.8,"o":0.21,"c":0.21,"d":-1.33,"m":0.11},{"x":145.1,"o":0.17,"c":0.17,"d":-1.32,"m":0.11},{"x":146,"o":0.14,"c":0.14,"d":-1.33,"m":0.11},{"x":147,"o":0.13,"c":0.13,"d":-1.34,"m":0.1},{"x":148,"o":0.14,"c":0.13,"d":-1.33,"m":0.1},{"x":149,"o":0.13,"c":0.13,"d":-1.32,"m":0.1},{"x":150.2,"o":0.16,"c":0.16,"d":-1.33,"m":0.14},{"x":151,"o":0.13,"c":0.13,"d":-1.34,"m":0.1},{"x":151.9,"o":0.14,"c":0.14,"d":-1.33,"m":0.12},{"x":153,"o":0.13,"c":0.13,"d":-1.32,"m":0.1},{"x":154,"o":0.14,"c":0.13,"d":-1.33,"m":0.1},{"x":155,"o":0.13,"c":0.13,"d":-1.34,"m":0.1},{"x":156,"o":0.14,"c":0.13,"d":-1.33,"m":0.1},{"x":157,"o":0.13,"c":0.13,"d":-1.32,"m":0.1},{"x":158,"o":0.14,"c":0.13,"d":-1.33,"m":0.1},{"x":159,"o":0.13,"c":0.13,"d":-1.34,"m":0.1},{"x":160,"o":0.14,"c":0.13,"d":-1.33,"m":0.1},{"x":161,"o":0.13,"c":0.13,"d":-1.32,"m":0.1},{"x":162,"o":0.14,"c":0.13,"d":-1.33,"m":0.1},{"x":163,"o":0.13,"c":0.13,"d":-1.34,"m":0.1},{"x":164,"o":0.14,"c":0.13,"d":-1.33,"m":0.1},{"x":165,"o":0.13,"c":0.13,"d":-1.32,"m":0.1}
],
"p3":[
{"x":5,"o":0.27,"d":-1.52},{"x":6,"o":0.26,"d":-1.52},{"x":7,"o":0.27,"d":-1.52},{"x":8,"o":0.28,"d":-1.52},{"x":9,"o":0.28,"d":-1.52},{"x":10,"o":0.3,"d":-1.52},{"x":11,"o":0.31,"d":-1.52},{"x":12,"o":0.33,"d":-1.52},{"x":13,"o":0.35,"d":-1.52},{"x":14,"o":0.37,"d":-1.52},{"x":15,"o":0.4,"d":-1.52},{"x":16,"o":0.43,"d":-1.52},{"x":17,"o":0.47,"d":-1.52},{"x":18,"o":0.52,"d":-1.52},{"x":19,"o":0.58,"d":-1.52},{"x":20,"o":0.63,"d":-1.52},{"x":21,"o":0.68,"d":-1.52},{"x":22,"o":0.65,"d":-1.52},{"x":23,"o":0.6,"d":-1.52},{"x":24,"o":0.55,"d":-1.52},{"x":25,"o":0.5,"d":-1.52},{"x":26,"o":0.46,"d":-1.52},{"x":27,"o":0.43,"d":-1.52},{"x":28,"o":0.4,"d":-1.52},{"x":29,"o":0.38,"d":-1.52},{"x":30,"o":0.36,"d":-1.52},{"x":31,"o":0.35,"d":-1.52},{"x":32,"o":0.34,"d":-1.52},{"x":33,"o":0.33,"d":-1.52},{"x":34,"o":0.32,"d":-1.52},
{"x":35,"o":0.32,"c":0.31,"d":-1.51},{"x":36,"o":0.31,"c":0.31,"d":-1.53},{"x":37,"o":0.3,"c":0.3,"d":-1.52},{"x":38,"o":0.3,"c":0.3,"d":-1.51},{"x":39,"o":0.3,"c":0.3,"d":-1.53},{"x":40,"o":0.31,"c":0.31,"d":-1.52},{"x":41,"o":0.33,"c":0.33,"d":-1.51},{"x":42,"o":0.45,"c":0.45,"d":-1.53},
{"x":42.7,"o":1.0,"c":1.03,"d":-1.55},{"x":42.95,"o":1.8,"c":1.91,"d":-1.6},{"x":43.1,"o":3.2,"c":3.3,"d":-1.45},{"x":43.2,"o":5.0,"c":5.18,"d":-1.2},{"x":43.28,"o":7.2,"c":7.47,"d":-1.8},{"x":43.35,"o":9.4,"c":9.47,"d":-1.1},{"x":43.4,"o":10.15,"c":10.05,"d":-1.45},{"x":43.43,"o":10.0,"c":9.84,"d":-1.92},{"x":43.48,"o":8.45,"c":8.7,"d":-1.35},{"x":43.56,"o":6.5,"c":6.25,"d":-1.3},{"x":43.65,"o":4.2,"c":4.1,"d":-1.6},{"x":43.78,"o":2.55,"c":2.42,"d":-1.45},{"x":43.95,"o":1.5,"c":1.44,"d":-1.55},{"x":44.3,"o":0.8,"c":0.76,"d":-1.5},{"x":44.8,"o":0.45,"c":0.45,"d":-1.52},
{"x":45.5,"o":0.32,"c":0.32,"d":-1.53},{"x":46.5,"o":0.28,"c":0.28,"d":-1.52},{"x":47.5,"o":0.27,"c":0.27,"d":-1.51},{"x":48.5,"o":0.26,"c":0.26,"d":-1.53},{"x":49.4,"o":0.26,"c":0.26,"d":-1.52},{"x":50.1,"o":0.32,"c":0.31,"d":-1.51},{"x":50.5,"o":0.5,"c":0.49,"d":-1.53},{"x":50.9,"o":0.31,"c":0.31,"d":-1.52},{"x":51.6,"o":0.25,"c":0.25,"d":-1.51},{"x":52.5,"o":0.24,"c":0.24,"d":-1.53},
{"x":53.5,"o":0.24,"c":0.23,"d":-1.52},{"x":54.5,"o":0.23,"c":0.23,"d":-1.51},{"x":55.5,"o":0.23,"c":0.22,"d":-1.53},{"x":56.5,"o":0.22,"c":0.22,"d":-1.52},{"x":57.5,"o":0.22,"c":0.21,"d":-1.51},{"x":58.5,"o":0.21,"c":0.21,"d":-1.53},{"x":59.5,"o":0.21,"c":0.2,"d":-1.52},{"x":60.5,"o":0.2,"c":0.2,"d":-1.51},{"x":61.5,"o":0.2,"c":0.2,"d":-1.53},{"x":62.5,"o":0.2,"c":0.19,"d":-1.52},{"x":63.5,"o":0.19,"c":0.19,"d":-1.51},{"x":64.5,"o":0.19,"c":0.19,"d":-1.53},{"x":65.5,"o":0.19,"c":0.18,"d":-1.52},{"x":66.5,"o":0.18,"c":0.18,"d":-1.51},{"x":67.5,"o":0.18,"c":0.18,"d":-1.53},{"x":68.5,"o":0.18,"c":0.18,"d":-1.52},{"x":69.5,"o":0.18,"c":0.17,"d":-1.51},{"x":70.5,"o":0.17,"c":0.17,"d":-1.53},{"x":71.5,"o":0.18,"c":0.17,"d":-1.52},{"x":72.5,"o":0.17,"c":0.17,"d":-1.51},
{"x":73.4,"o":0.19,"c":0.19,"d":-1.53},{"x":73.8,"o":0.26,"c":0.26,"d":-1.52},{"x":74.2,"o":0.46,"c":0.45,"d":-1.5},{"x":74.6,"o":0.26,"c":0.26,"d":-1.53},{"x":75.2,"o":0.18,"c":0.18,"d":-1.52},
{"x":76,"o":0.17,"c":0.17,"d":-1.51},{"x":77,"o":0.17,"c":0.17,"d":-1.53},{"x":78,"o":0.17,"c":0.17,"d":-1.52},{"x":79,"o":0.17,"c":0.16,"d":-1.51},{"x":80,"o":0.16,"c":0.16,"d":-1.53},{"x":81,"o":0.17,"c":0.16,"d":-1.52},{"x":82,"o":0.16,"c":0.16,"d":-1.51},{"x":83,"o":0.17,"c":0.16,"d":-1.53},{"x":84,"o":0.16,"c":0.16,"d":-1.52},{"x":85,"o":0.17,"c":0.16,"d":-1.51},{"x":86,"o":0.17,"c":0.17,"d":-1.53},{"x":87,"o":0.18,"c":0.18,"d":-1.52},{"x":88,"o":0.25,"c":0.25,"d":-1.51},
{"x":88.6,"o":0.55,"c":0.55,"d":-1.53},{"x":88.95,"o":0.9,"c":0.93,"d":-1.55},{"x":89.2,"o":1.7,"c":1.76,"d":-1.56},{"x":89.35,"o":2.9,"c":3.0,"d":-1.6},{"x":89.45,"o":4.5,"c":4.66,"d":-1.65},{"x":89.53,"o":5.85,"c":6.84,"d":-1.9},{"x":89.6,"o":8.2,"c":9.37,"d":-1.1},{"x":89.65,"o":9.8,"c":11.0,"d":-1.95},{"x":89.7,"o":10.4,"c":11.67,"d":-1.25},{"x":89.75,"o":10.35,"c":11.0,"d":-0.95},{"x":89.8,"o":9.0,"c":9.37,"d":-1.8},{"x":89.87,"o":7.35,"c":6.84,"d":-1.3},{"x":89.95,"o":4.7,"c":4.66,"d":-1.6},{"x":90.05,"o":3.1,"c":3.0,"d":-1.4},{"x":90.2,"o":1.8,"c":1.76,"d":-1.48},{"x":90.45,"o":0.95,"c":0.93,"d":-1.5},{"x":91,"o":0.35,"c":0.35,"d":-1.52},
{"x":92,"o":0.2,"c":0.2,"d":-1.53},{"x":93,"o":0.18,"c":0.18,"d":-1.51},{"x":94,"o":0.19,"c":0.19,"d":-1.52},{"x":94.7,"o":0.23,"c":0.22,"d":-1.53},{"x":95,"o":0.32,"c":0.32,"d":-1.5},{"x":95.3,"o":0.22,"c":0.22,"d":-1.52},{"x":96,"o":0.17,"c":0.17,"d":-1.51},
{"x":97,"o":0.16,"c":0.16,"d":-1.53},{"x":98,"o":0.17,"c":0.16,"d":-1.52},{"x":99,"o":0.16,"c":0.16,"d":-1.51},{"x":100,"o":0.17,"c":0.16,"d":-1.53},{"x":101,"o":0.16,"c":0.16,"d":-1.52},{"x":102,"o":0.17,"c":0.16,"d":-1.51},{"x":103,"o":0.16,"c":0.16,"d":-1.53},{"x":104,"o":0.17,"c":0.16,"d":-1.52},{"x":105,"o":0.16,"c":0.16,"d":-1.51},{"x":106,"o":0.17,"c":0.16,"d":-1.53},{"x":107,"o":0.16,"c":0.16,"d":-1.52},{"x":108,"o":0.17,"c":0.16,"d":-1.51},{"x":109,"o":0.16,"c":0.16,"d":-1.53},{"x":110,"o":0.17,"c":0.16,"d":-1.52},{"x":111,"o":0.16,"c":0.16,"d":-1.51},{"x":112,"o":0.17,"c":0.16,"d":-1.53},{"x":113,"o":0.16,"c":0.16,"d":-1.52},{"x":114,"o":0.17,"c":0.16,"d":-1.51},{"x":115,"o":0.16,"c":0.16,"d":-1.53},{"x":116,"o":0.17,"c":0.17,"d":-1.52},{"x":116.5,"o":0.2,"c":0.2,"d":-1.51},{"x":116.8,"o":0.27,"c":0.27,"d":-1.5},{"x":117.1,"o":0.2,"c":0.2,"d":-1.53},{"x":118,"o":0.16,"c":0.16,"d":-1.52},
{"x":119,"o":0.15,"c":0.15,"d":-1.51},{"x":120,"o":0.16,"c":0.15,"d":-1.53},{"x":121,"o":0.15,"c":0.15,"d":-1.52},{"x":122,"o":0.16,"c":0.15,"d":-1.51},{"x":123,"o":0.15,"c":0.15,"d":-1.53},{"x":124,"o":0.16,"c":0.15,"d":-1.52},{"x":125,"o":0.15,"c":0.15,"d":-1.51},{"x":126,"o":0.16,"c":0.15,"d":-1.53},{"x":127,"o":0.15,"c":0.15,"d":-1.52},{"x":128,"o":0.16,"c":0.15,"d":-1.51},{"x":129,"o":0.15,"c":0.15,"d":-1.53},{"x":130,"o":0.16,"c":0.16,"d":-1.52},{"x":131,"o":0.16,"c":0.16,"d":-1.51},{"x":132,"o":0.17,"c":0.17,"d":-1.53},{"x":133,"o":0.2,"c":0.2,"d":-1.52},{"x":134,"o":0.35,"c":0.34,"d":-1.51},{"x":134.5,"o":0.5,"c":0.5,"d":-1.53},
{"x":134.9,"o":0.7,"c":0.67,"d":-1.5},{"x":135.2,"o":1.1,"c":1.08,"d":-1.52},{"x":135.4,"o":1.7,"c":1.66,"d":-1.5},{"x":135.55,"o":2.6,"c":2.5,"d":-1.45},{"x":135.7,"o":4.2,"c":4.07,"d":-1.4},{"x":135.8,"o":5.6,"c":5.72,"d":-1.6},{"x":135.85,"o":6.6,"c":6.69,"d":-1.45},{"x":135.9,"o":7.5,"c":7.61,"d":-1.05},{"x":135.95,"o":7.9,"c":8.3,"d":-1.85},{"x":136,"o":8.17,"c":8.56,"d":-1.2},{"x":136.05,"o":8.1,"c":8.3,"d":-1.75},{"x":136.1,"o":7.8,"c":7.61,"d":-1.3},{"x":136.15,"o":7.35,"c":6.69,"d":-1.6},{"x":136.2,"o":6.55,"c":5.72,"d":-1.35},{"x":136.3,"o":4.3,"c":4.07,"d":-1.45},{"x":136.45,"o":2.4,"c":2.5,"d":-1.58},{"x":136.6,"o":1.7,"c":1.66,"d":-1.5},{"x":136.8,"o":1.05,"c":1.08,"d":-1.53},{"x":137.1,"o":0.7,"c":0.67,"d":-1.51},
{"x":137.6,"o":0.35,"c":0.35,"d":-1.52},{"x":138.5,"o":0.22,"c":0.22,"d":-1.53},{"x":139.5,"o":0.18,"c":0.18,"d":-1.51},{"x":140.5,"o":0.16,"c":0.16,"d":-1.52},{"x":141.5,"o":0.15,"c":0.15,"d":-1.53},{"x":142.5,"o":0.16,"c":0.16,"d":-1.51},{"x":143.1,"o":0.18,"c":0.18,"d":-1.52},{"x":143.4,"o":0.24,"c":0.23,"d":-1.53},{"x":143.7,"o":0.36,"c":0.35,"d":-1.51},{"x":143.9,"o":0.45,"c":0.45,"d":-1.5},{"x":144.1,"o":0.4,"c":0.4,"d":-1.53},{"x":144.4,"o":0.23,"c":0.22,"d":-1.52},
{"x":145,"o":0.16,"c":0.16,"d":-1.51},{"x":146,"o":0.15,"c":0.15,"d":-1.53},{"x":147,"o":0.14,"c":0.14,"d":-1.52},{"x":148,"o":0.15,"c":0.14,"d":-1.51},{"x":149,"o":0.14,"c":0.14,"d":-1.53},{"x":150,"o":0.15,"c":0.14,"d":-1.52},{"x":151,"o":0.14,"c":0.14,"d":-1.51},{"x":152,"o":0.15,"c":0.14,"d":-1.53},{"x":153,"o":0.14,"c":0.14,"d":-1.52},{"x":154,"o":0.15,"c":0.14,"d":-1.51},{"x":155,"o":0.14,"c":0.14,"d":-1.53},{"x":156,"o":0.15,"c":0.14,"d":-1.52},{"x":157,"o":0.14,"c":0.14,"d":-1.51},{"x":158,"o":0.15,"c":0.14,"d":-1.53},{"x":159,"o":0.14,"c":0.14,"d":-1.52},{"x":160,"o":0.15,"c":0.14,"d":-1.51},{"x":161,"o":0.14,"c":0.14,"d":-1.53},{"x":162,"o":0.15,"c":0.14,"d":-1.52},{"x":163,"o":0.14,"c":0.14,"d":-1.51},{"x":164,"o":0.15,"c":0.14,"d":-1.53},{"x":165,"o":0.14,"c":0.14,"d":-1.52}
],
"t1":[
{"x":21.6,"r":1},{"x":41.3,"r":1},{"x":43.3,"r":1},{"x":44.1,"r":1},{"x":50.6,"r":1},{"x":55.7,"r":1},{"x":68.0,"r":1},{"x":68.5,"r":1},{"x":74.2,"r":1},{"x":74.9,"r":1},{"x":77.8,"r":1},{"x":88.1,"r":1},{"x":88.9,"r":1},{"x":89.6,"r":1},{"x":90.2,"r":1},{"x":91.0,"r":1},{"x":95.2,"r":1},{"x":96.5,"r":1},{"x":98.8,"r":1},{"x":100.0,"r":1},{"x":109.8,"r":1},{"x":110.2,"r":1},{"x":116.9,"r":1},{"x":122.9,"r":1},{"x":132.9,"r":1},{"x":133.9,"r":1},{"x":135.1,"r":1},{"x":136.8,"r":1},{"x":137.4,"r":1},{"x":139.8,"r":1},{"x":142.8,"r":1},{"x":146.2,"r":1},{"x":149.7,"r":1},{"x":152.6,"r":1},
{"x":21.6,"r":2},{"x":41.3,"r":2},{"x":55.7,"r":2},{"x":68.0,"r":2},{"x":68.5,"r":2},{"x":77.8,"r":2},{"x":88.1,"r":2},{"x":99.0,"r":2},{"x":100.0,"r":2},{"x":109.8,"r":2},{"x":110.2,"r":2},{"x":116.9,"r":2},{"x":122.9,"r":2},{"x":132.9,"r":2},{"x":137.4,"r":2},{"x":149.7,"r":2},{"x":152.6,"r":2}
],
"t2":[
{"x":43.5,"r":1},{"x":43.8,"r":1},{"x":50.6,"r":1},{"x":74.0,"r":1},{"x":74.5,"r":1},{"x":89.2,"r":1},{"x":89.6,"r":1},{"x":94.6,"r":1},{"x":95.7,"r":1},{"x":116.6,"r":1},{"x":135.0,"r":1},{"x":135.8,"r":1},{"x":137.3,"r":1},{"x":142.9,"r":1},{"x":144.8,"r":1},
{"x":21.8,"r":2},{"x":41.5,"r":2},{"x":55.6,"r":2},{"x":67.6,"r":2},{"x":77.7,"r":2},{"x":88.1,"r":2},{"x":98.5,"r":2},{"x":99.3,"r":2},{"x":109.4,"r":2},{"x":109.7,"r":2},{"x":122.0,"r":2},{"x":133.2,"r":2},{"x":135.8,"r":2},{"x":150.2,"r":2},{"x":151.9,"r":2}
],
"t3":[{"x":43.5},{"x":50.5},{"x":74.2},{"x":90.0},{"x":95.1},{"x":116.8},{"x":136.1},{"x":143.9}]
},
"vconcat":[
{
 "width":494,"height":381,
 "title":{"text":"×10⁴"},
 "resolve":{"axis":{"x":"independent","y":"independent"}},
 "layer":[
  {"data":{"name":"p1"},"mark":{"type":"line","strokeDash":[1,2],"strokeWidth":0.8,"clip":true},
   "encoding":{
    "x":{"field":"x","type":"quantitative","scale":{"domain":[10,165],"nice":false,"zero":false},"axis":{"values":[20,40,60,80,100,120,140,160],"title":"2θ, degrees","titleX":261,"titleY":46,"titleBaseline":"alphabetic","titleAlign":"center"}},
    "y":{"field":"o","type":"quantitative","scale":{"domain":[-2,11],"nice":false,"zero":false},"axis":{"values":[-2,0,2,4,6,8,10],"title":"Neutron counts","labelExpr":"datum.value < 0 ? '-' + abs(datum.value) : datum.label"}},
    "color":{"datum":"obs.","scale":{"domain":["obs.","calc.","diff.","mag"],"range":["#444444","#000000","#0000ff","#00ee00"]},
     "legend":{"orient":"none","legendX":410,"legendY":20,"zindex":1,"title":null,"symbolType":"M-1,0H3","symbolSize":225,"symbolStrokeWidth":1.5,"symbolDash":{"expr":"datum.value === 'obs.' ? [1,2] : datum.value === 'diff.' ? [2,1.5] : [1,0]"},"labelFont":"Liberation Serif","labelFontSize":17,"labelColor":"#000","labelOffset":15,"strokeColor":"#333","fillColor":"#fff","padding":3,"rowPadding":2}}
   }},
  {"data":{"name":"p1"},"mark":{"type":"point","filled":true,"fill":"#ff0000","stroke":"#2a0000","strokeWidth":0.8,"size":28,"opacity":1,"clip":true},
   "encoding":{"x":{"field":"x","type":"quantitative","axis":null},"y":{"field":"o","type":"quantitative","axis":null},
    "shape":{"datum":"obs.","scale":{"domain":["obs."],"range":["circle"]},"legend":{"orient":"none","legendX":426,"legendY":28.5,"zindex":2,"title":null,"symbolSize":28,"symbolFillColor":"#ff0000","symbolStrokeColor":"#2a0000","symbolStrokeWidth":0.6,"labelFontSize":1,"labelOpacity":0,"padding":0,"strokeColor":null,"fillColor":null}}}},
  {"data":{"name":"p1"},"mark":{"type":"line","strokeWidth":1,"clip":true},
   "encoding":{"x":{"field":"x","type":"quantitative","axis":{"orient":"top","labels":false,"title":null,"values":[20,40,60,80,100,120,140,160],"domain":false}},
    "y":{"field":"c","type":"quantitative","axis":{"orient":"right","labels":false,"title":null,"values":[-2,0,2,4,6,8,10],"domain":false}},
    "color":{"datum":"calc."}}},
  {"data":{"name":"p1"},"mark":{"type":"line","strokeWidth":1.5,"strokeDash":[1.5,1.5],"clip":true},
   "encoding":{"x":{"field":"x","type":"quantitative","axis":null},"y":{"field":"d","type":"quantitative","axis":null},"color":{"datum":"diff."}}},
  {"data":{"name":"p1"},"mark":{"type":"line","strokeWidth":2.8,"clip":true},
   "encoding":{"x":{"field":"x","type":"quantitative","axis":null},"y":{"field":"m","type":"quantitative","axis":null},"color":{"datum":"mag"}}},
  {"data":{"name":"t1"},"transform":[{"filter":"datum.r == 1"}],"mark":{"type":"rule","color":"#8a8a8a","strokeWidth":1},
   "encoding":{"x":{"field":"x","type":"quantitative","axis":null},"y":{"datum":-0.24,"type":"quantitative","axis":null},"y2":{"datum":-0.42}}},
  {"data":{"name":"t1"},"transform":[{"filter":"datum.r == 2"}],"mark":{"type":"rule","color":"#8a8a8a","strokeWidth":1},
   "encoding":{"x":{"field":"x","type":"quantitative","axis":null},"y":{"datum":-0.55,"type":"quantitative","axis":null},"y2":{"datum":-0.75}}},
  {"data":{"values":[{"t":"T=2K"}]},"mark":{"type":"text","align":"left","baseline":"middle","font":"Liberation Serif","fontSize":18,"color":"#000"},
   "encoding":{"x":{"datum":60,"type":"quantitative","axis":null},"y":{"datum":10,"type":"quantitative","axis":null},"text":{"field":"t"}}}
 ]
},
{
 "width":494,"height":381,
 "title":{"text":"×10⁴"},
 "resolve":{"axis":{"x":"independent","y":"independent"}},
 "layer":[
  {"data":{"name":"p2"},"mark":{"type":"line","strokeDash":[1,2],"strokeWidth":0.8,"clip":true},
   "encoding":{
    "x":{"field":"x","type":"quantitative","scale":{"domain":[10,165],"nice":false,"zero":false},"axis":{"values":[20,40,60,80,100,120,140,160],"title":"2θ, degrees","titleX":261,"titleY":46,"titleBaseline":"alphabetic","titleAlign":"center"}},
    "y":{"field":"o","type":"quantitative","scale":{"domain":[-2,9],"nice":false,"zero":false},"axis":{"values":[-2,0,2,4,6,8],"title":"Neutron counts","labelExpr":"datum.value < 0 ? '-' + abs(datum.value) : datum.label"}},
    "color":{"datum":"obs.","scale":{"domain":["obs.","calc.","diff.","mag"],"range":["#444444","#000000","#0000ff","#00ee00"]},
     "legend":{"orient":"none","legendX":410,"legendY":20,"zindex":1,"title":null,"symbolType":"M-1,0H3","symbolSize":225,"symbolStrokeWidth":1.5,"symbolDash":{"expr":"datum.value === 'obs.' ? [1,2] : datum.value === 'diff.' ? [2,1.5] : [1,0]"},"labelFont":"Liberation Serif","labelFontSize":17,"labelColor":"#000","labelOffset":15,"strokeColor":"#333","fillColor":"#fff","padding":3,"rowPadding":2}}
   }},
  {"data":{"name":"p2"},"mark":{"type":"point","filled":true,"fill":"#ff0000","stroke":"#2a0000","strokeWidth":0.8,"size":28,"opacity":1,"clip":true},
   "encoding":{"x":{"field":"x","type":"quantitative","axis":null},"y":{"field":"o","type":"quantitative","axis":null},
    "shape":{"datum":"obs.","scale":{"domain":["obs."],"range":["circle"]},"legend":{"orient":"none","legendX":426,"legendY":28.5,"zindex":2,"title":null,"symbolSize":28,"symbolFillColor":"#ff0000","symbolStrokeColor":"#2a0000","symbolStrokeWidth":0.6,"labelFontSize":1,"labelOpacity":0,"padding":0,"strokeColor":null,"fillColor":null}}}},
  {"data":{"name":"p2"},"mark":{"type":"line","strokeWidth":1,"clip":true},
   "encoding":{"x":{"field":"x","type":"quantitative","axis":{"orient":"top","labels":false,"title":null,"values":[20,40,60,80,100,120,140,160],"domain":false}},
    "y":{"field":"c","type":"quantitative","axis":{"orient":"right","labels":false,"title":null,"values":[-2,0,2,4,6,8],"domain":false}},
    "color":{"datum":"calc."}}},
  {"data":{"name":"p2"},"mark":{"type":"line","strokeWidth":1.5,"strokeDash":[1.5,1.5],"clip":true},
   "encoding":{"x":{"field":"x","type":"quantitative","axis":null},"y":{"field":"d","type":"quantitative","axis":null},"color":{"datum":"diff."}}},
  {"data":{"name":"p2"},"mark":{"type":"line","strokeWidth":2.8,"clip":true},
   "encoding":{"x":{"field":"x","type":"quantitative","axis":null},"y":{"field":"m","type":"quantitative","axis":null},"color":{"datum":"mag"}}},
  {"data":{"name":"t2"},"transform":[{"filter":"datum.r == 1"}],"mark":{"type":"rule","color":"#aaaaaa","strokeWidth":1},
   "encoding":{"x":{"field":"x","type":"quantitative","axis":null},"y":{"datum":-0.22,"type":"quantitative","axis":null},"y2":{"datum":-0.4}}},
  {"data":{"name":"t2"},"transform":[{"filter":"datum.r == 2"}],"mark":{"type":"rule","color":"#333333","strokeWidth":1},
   "encoding":{"x":{"field":"x","type":"quantitative","axis":null},"y":{"datum":-0.52,"type":"quantitative","axis":null},"y2":{"datum":-0.7}}},
  {"data":{"values":[{"t":"T=100K"}]},"mark":{"type":"text","align":"left","baseline":"middle","font":"Liberation Serif","fontSize":18,"color":"#000"},
   "encoding":{"x":{"datum":60,"type":"quantitative","axis":null},"y":{"datum":8,"type":"quantitative","axis":null},"text":{"field":"t"}}}
 ]
},
{
 "width":494,"height":381,
 "title":{"text":"×10⁴"},
 "resolve":{"axis":{"x":"independent","y":"independent"}},
 "layer":[
  {"data":{"name":"p3"},"mark":{"type":"line","strokeDash":[1,2],"strokeWidth":0.8,"clip":true},
   "encoding":{
    "x":{"field":"x","type":"quantitative","scale":{"domain":[5,165],"nice":false,"zero":false},"axis":{"values":[20,40,60,80,100,120,140,160],"title":"2θ, degrees","titleX":261,"titleY":46,"titleBaseline":"alphabetic","titleAlign":"center"}},
    "y":{"field":"o","type":"quantitative","scale":{"domain":[-2.3,11],"nice":false,"zero":false},"axis":{"values":[-2,0,2,4,6,8,10],"title":"Neutron counts","labelExpr":"datum.value < 0 ? '-' + abs(datum.value) : datum.label"}},
    "color":{"datum":"obs.","scale":{"domain":["obs.","calc.","diff."],"range":["#444444","#000000","#0000ff"]},
     "legend":{"orient":"none","legendX":312,"legendY":6,"zindex":1,"title":null,"symbolType":"M-1,0H3","symbolSize":225,"symbolStrokeWidth":1.5,"symbolDash":{"expr":"datum.value === 'obs.' ? [1,2] : datum.value === 'diff.' ? [2,1.5] : [1,0]"},"labelFont":"Liberation Serif","labelFontSize":17,"labelColor":"#000","labelOffset":15,"strokeColor":"#333","fillColor":"#fff","padding":3,"rowPadding":2}}
   }},
  {"data":{"name":"p3"},"mark":{"type":"point","filled":true,"fill":"#ff0000","stroke":"#2a0000","strokeWidth":0.8,"size":28,"opacity":1,"clip":true},
   "encoding":{"x":{"field":"x","type":"quantitative","axis":null},"y":{"field":"o","type":"quantitative","axis":null},
    "shape":{"datum":"obs.","scale":{"domain":["obs."],"range":["circle"]},"legend":{"orient":"none","legendX":328,"legendY":14.5,"zindex":2,"title":null,"symbolSize":28,"symbolFillColor":"#ff0000","symbolStrokeColor":"#2a0000","symbolStrokeWidth":0.6,"labelFontSize":1,"labelOpacity":0,"padding":0,"strokeColor":null,"fillColor":null}}}},
  {"data":{"name":"p3"},"mark":{"type":"line","strokeWidth":1,"clip":true},
   "encoding":{"x":{"field":"x","type":"quantitative","axis":{"orient":"top","labels":false,"title":null,"values":[20,40,60,80,100,120,140,160],"domain":false}},
    "y":{"field":"c","type":"quantitative","axis":{"orient":"right","labels":false,"title":null,"values":[-2,0,2,4,6,8,10],"domain":false}},
    "color":{"datum":"calc."}}},
  {"data":{"name":"p3"},"mark":{"type":"line","strokeWidth":1.5,"strokeDash":[1.5,1.5],"clip":true},
   "encoding":{"x":{"field":"x","type":"quantitative","axis":null},"y":{"field":"d","type":"quantitative","axis":null},"color":{"datum":"diff."}}},
  {"data":{"name":"t3"},"mark":{"type":"rule","color":"#8a8a8a","strokeWidth":1},
   "encoding":{"x":{"field":"x","type":"quantitative","axis":null},"y":{"datum":-0.24,"type":"quantitative","axis":null},"y2":{"datum":-0.45}}},
  {"data":{"values":[{"t":"T=125K"}]},"mark":{"type":"text","align":"left","baseline":"middle","font":"Liberation Serif","fontSize":18,"color":"#000"},
   "encoding":{"x":{"datum":60,"type":"quantitative","axis":null},"y":{"datum":10,"type":"quantitative","axis":null},"text":{"field":"t"}}}
 ]
}
]
}
